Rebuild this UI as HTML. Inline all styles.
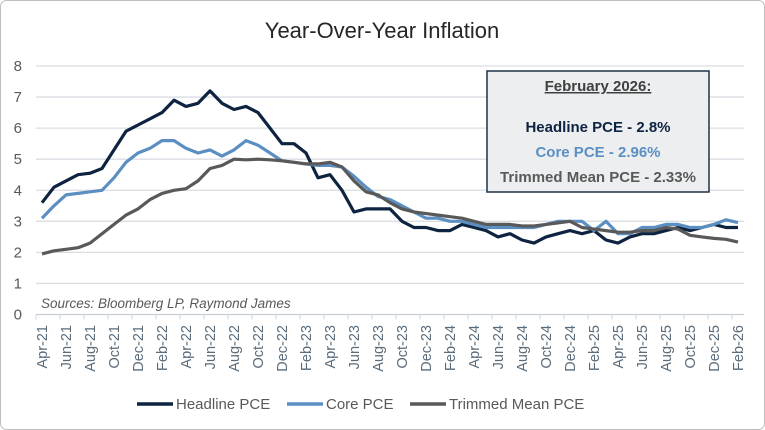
<!DOCTYPE html>
<html><head><meta charset="utf-8"><style>
html,body{margin:0;padding:0;background:#fff}
svg{display:block;font-family:"Liberation Sans",sans-serif}
</style></head><body>
<svg width="765" height="430" viewBox="0 0 765 430" xmlns="http://www.w3.org/2000/svg">
<rect x="0.5" y="0.5" width="764" height="429" rx="6" fill="#fff" stroke="#bfbfbf"/>
<text x="382" y="38" text-anchor="middle" font-size="22" fill="#262626">Year-Over-Year Inflation</text>
<g id="grid" stroke="#d9dee3" stroke-width="1.3"></g>
<g id="ylab" font-size="15" fill="#595959" text-anchor="end"></g>
<g id="xlab" font-size="14.5" fill="#5a6b7a"></g>
<g id="lines" fill="none" stroke-width="3.2" stroke-linejoin="round"></g>
<text x="41" y="308" font-size="13.5" font-style="italic" fill="#595959">Sources: Bloomberg LP, Raymond James</text>
<rect x="487" y="71" width="222" height="121" fill="#eceef0" stroke="#1f3047" stroke-width="1.5"/>
<g font-weight="bold" font-size="15" text-anchor="middle">
<text x="598" y="91" fill="#404040" text-decoration="underline">February 2026:</text>
<text x="598" y="132" fill="#0d2340">Headline PCE - 2.8%</text>
<text x="598" y="157" fill="#5b8fc2">Core PCE - 2.96%</text>
<text x="598" y="182" fill="#595959">Trimmed Mean PCE - 2.33%</text>
</g>
<g font-size="15" fill="#595959">
<line x1="137" y1="404" x2="173" y2="404" stroke="#0d2340" stroke-width="3.5"/>
<text x="176" y="409">Headline PCE</text>
<line x1="287" y1="404" x2="323" y2="404" stroke="#5b8fc2" stroke-width="3.5"/>
<text x="326" y="409">Core PCE</text>
<line x1="410" y1="404" x2="446" y2="404" stroke="#595959" stroke-width="3.5"/>
<text x="449" y="409">Trimmed Mean PCE</text>
</g>
</svg>
<script>
const NS="http://www.w3.org/2000/svg";
const y0=314.5,u=31.06,x0=42,dx=12;
const Y=v=>y0-v*u, X=i=>x0+i*dx;
function el(t,a,p,txt){const e=document.createElementNS(NS,t);for(const k in a)e.setAttribute(k,a[k]);if(txt!=null)e.textContent=txt;document.getElementById(p).appendChild(e);return e;}
for(let v=0;v<=8;v++){
  if(v>0) el('line',{x1:36,x2:744,y1:Y(v),y2:Y(v)},'grid');
  el('text',{x:22,y:Y(v)+5},'ylab',v);
}
el('line',{x1:36,x2:744,y1:y0,y2:y0,stroke:'#c8ced4'},'grid');
for(let i=0;i<=59;i+=2){el('line',{x1:36+i*dx,x2:36+i*dx,y1:y0,y2:y0+5},'grid');}
const mn=['Jan','Feb','Mar','Apr','May','Jun','Jul','Aug','Sep','Oct','Nov','Dec'];
for(let i=0;i<59;i+=2){const m=(3+i)%12,yr=21+Math.floor((3+i)/12);
  el('text',{transform:`translate(${X(i)+5},325) rotate(-90)`,'text-anchor':'end'},'xlab',mn[m]+'-'+yr);}
const H=[3.6,4.1,4.3,4.5,4.55,4.7,5.3,5.9,6.1, 6.3,6.5,6.9,6.7,6.8,7.2,6.8,6.6,6.7,6.5,6.0,5.5, 5.5,5.2,4.4,4.5,4.0,3.3,3.4,3.4,3.4,3.0,2.8,2.8, 2.7,2.7,2.9,2.8,2.7,2.5,2.6,2.4,2.3,2.5,2.6,2.7, 2.6,2.7,2.4,2.3,2.5,2.6,2.6,2.7,2.8,2.7,2.8,2.9, 2.8,2.8];
const C=[3.1,3.5,3.85,3.9,3.95,4.0,4.4,4.9,5.2, 5.35,5.6,5.6,5.35,5.2,5.3,5.1,5.3,5.6,5.45,5.2,4.95, 4.9,4.85,4.8,4.8,4.75,4.45,4.1,3.8,3.7,3.5,3.3,3.1, 3.1,3.0,3.0,2.9,2.8,2.8,2.8,2.8,2.8,2.9,3.0,3.0, 3.0,2.7,3.0,2.6,2.6,2.8,2.8,2.9,2.9,2.8,2.8,2.9, 3.05,2.96];
const T=[1.95,2.05,2.1,2.15,2.3,2.6,2.9,3.2,3.4, 3.7,3.9,4.0,4.05,4.3,4.7,4.8,5.0,4.98,5.0,4.98,4.95, 4.9,4.85,4.85,4.9,4.75,4.3,3.95,3.85,3.6,3.4,3.3,3.25, 3.2,3.15,3.1,3.0,2.9,2.9,2.9,2.85,2.85,2.9,2.95,3.0, 2.8,2.75,2.7,2.65,2.65,2.7,2.7,2.8,2.75,2.55,2.5,2.45, 2.42,2.33];
function line(d,c){el('polyline',{points:d.map((v,i)=>X(i)+','+Y(v).toFixed(1)).join(' '),stroke:c},'lines');}
line(H,'#0d2340');line(C,'#5b8fc2');line(T,'#595959');
</script>
</body></html>
